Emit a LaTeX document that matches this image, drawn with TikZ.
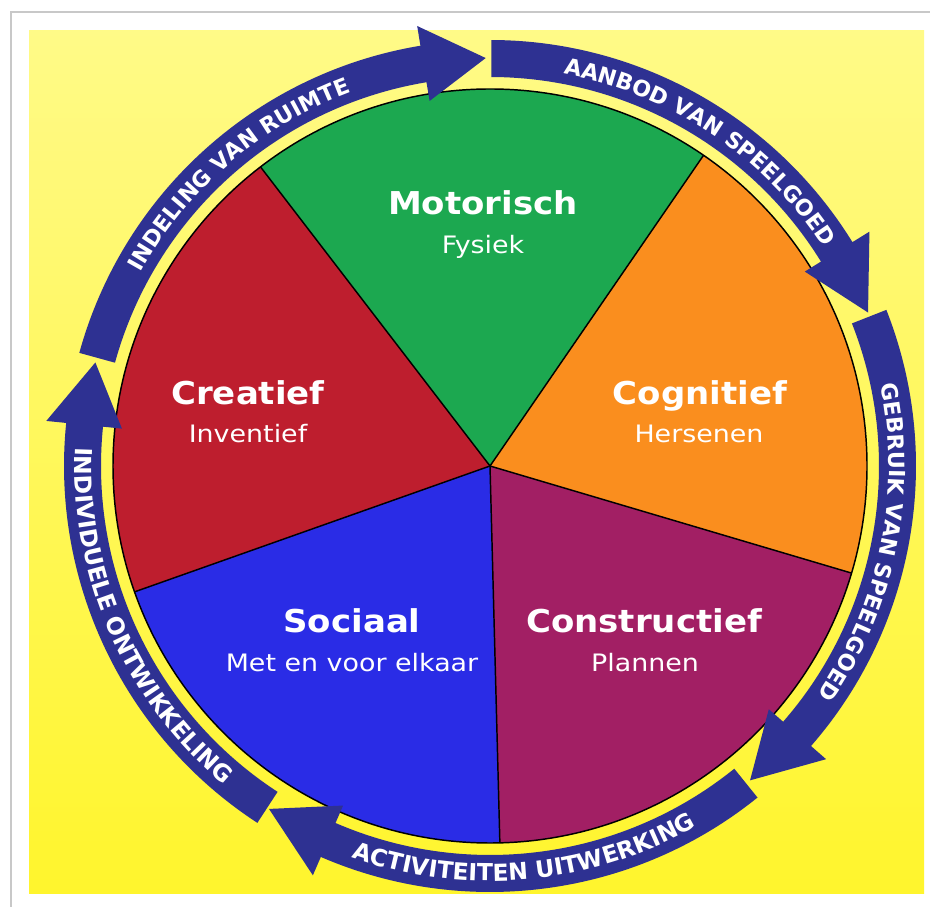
\documentclass[tikz,border=0pt]{standalone}
\usepackage{fontspec}
\usetikzlibrary{decorations.text}
\newfontfamily\ringfnt{DejaVu Sans}
\newfontfamily\labfntb[FakeStretch=1.08]{DejaVu Sans Bold}
\newfontfamily\labfntr[FakeStretch=1.12]{DejaVu Sans}
\newcommand\ringstyle{\ringfnt\bfseries\fontsize{16.6}{18}\selectfont}
\newcommand\ringstyleb{\ringfnt\bfseries\fontsize{17.6}{19}\selectfont}
\definecolor{ytop}{RGB}{255,250,135}
\definecolor{ymid}{RGB}{255,248,110}
\definecolor{ybot}{RGB}{255,245,45}
\definecolor{pgreen}{RGB}{28,168,80}
\definecolor{pred}{RGB}{190,30,46}
\definecolor{porange}{RGB}{250,142,30}
\definecolor{ppurple}{RGB}{162,31,100}
\definecolor{pblue}{RGB}{42,44,230}
\definecolor{band}{RGB}{46,49,146}
\definecolor{framegray}{RGB}{200,200,200}
\newcommand\ringarrow[3]{%
  \fill[band] (#1:426) arc[start angle=#1,end angle=#2,radius=426]
    -- (#2:446) -- (#3:408) -- (#2:370) -- (#2:389)
    arc[start angle=#2,end angle=#1,radius=389] -- cycle;}
\tikzset{
  bigl/.style={text=white, anchor=base, inner sep=0pt, font=\labfntb\fontsize{23.6}{26}\selectfont},
  smalll/.style={text=white, anchor=base, inner sep=0pt, font=\labfntr\fontsize{18}{20}\selectfont},
  spoke/.style={black, line width=1.1pt},
  cwtext/.style={decorate, decoration={text along path, text align=center, text color=white, text={|\ringstyle|#1}}},
  ccwtext/.style={decorate, decoration={text along path, text align=center, text color=white, text={|\ringstyleb|#1}}},
}
\begin{document}
\begin{tikzpicture}[x=0.75pt,y=0.75pt]
\useasboundingbox (0,0) rectangle (930,906);
\fill[white] (0,0) rectangle (930,906);
\draw[framegray, line width=1.4pt] (11,-5) -- (11,894) -- (940,894);
\shade[top color=ytop, middle color=ymid, bottom color=ybot] (29,13) rectangle (924,875);
\begin{scope}[shift={(490,440)}]
  % sectors
  \fill[pgreen]  (0,0) -- (55.5:377) arc[start angle=55.5, end angle=127.5, radius=377] -- cycle;
  \fill[pred]    (0,0) -- (127.5:377) arc[start angle=127.5, end angle=199.5, radius=377] -- cycle;
  \fill[pblue]   (0,0) -- (199.5:377) arc[start angle=199.5, end angle=271.5, radius=377] -- cycle;
  \fill[ppurple] (0,0) -- (271.5:377) arc[start angle=271.5, end angle=343.5, radius=377] -- cycle;
  \fill[porange] (0,0) -- (343.5:377) arc[start angle=343.5, end angle=415.5, radius=377] -- cycle;
  \coordinate (c) at (0,0);
  \foreach \a in {55.5,127.5,199.5,271.5,343.5} \draw[spoke] (c) -- (\a:377);
  \draw[spoke] (c) circle[radius=377];
  % ring arrows
  \ringarrow{164.6}{99.4}{90.6}
  \ringarrow{89.8}{31.7}{22.1}
  \ringarrow{21.5}{-41.1}{-50.4}
  \ringarrow{-51.1}{-113.4}{-122.8}
  \ringarrow{-123.1}{-185.8}{-194.7}
  % ring texts
  \path[cwtext={INDELING VAN RUIMTE}] (166:399) arc[start angle=166, end angle=95.4, radius=399];
  \path[cwtext={AANBOD VAN SPEELGOED}] (91:399) arc[start angle=91, end angle=21.6, radius=399];
  \path[cwtext={GEBRUIK VAN SPEELGOED}] (23:399) arc[start angle=23, end angle=-46.2, radius=399];
  \path[ccwtext={ACTIVITEITEN UITWERKING}] (-122:415) arc[start angle=-122, end angle=-47.6, radius=415];
  \path[ccwtext={INDIVIDUELE ONTWIKKELING}] (166:415) arc[start angle=166, end angle=241.6, radius=415];
\end{scope}
% labels
\node[bigl] (mot) at (483,691) {Motorisch};
\node[smalll] (fys) at (483,652) {Fysiek};
\node[bigl] (cre) at (248,501) {Creatief};
\node[smalll] (inv) at (248,463) {Inventief};
\node[bigl] (cog) at (700,501) {Cognitief};
\node[smalll] (her) at (699,463) {Hersenen};
\node[bigl] (soc) at (352,273) {Sociaal};
\node[smalll] (met) at (352,234) {Met en voor elkaar};
\node[bigl] (con) at (644,273) {Constructief};
\node[smalll] (pla) at (645,234) {Plannen};
\end{tikzpicture}
\end{document}
